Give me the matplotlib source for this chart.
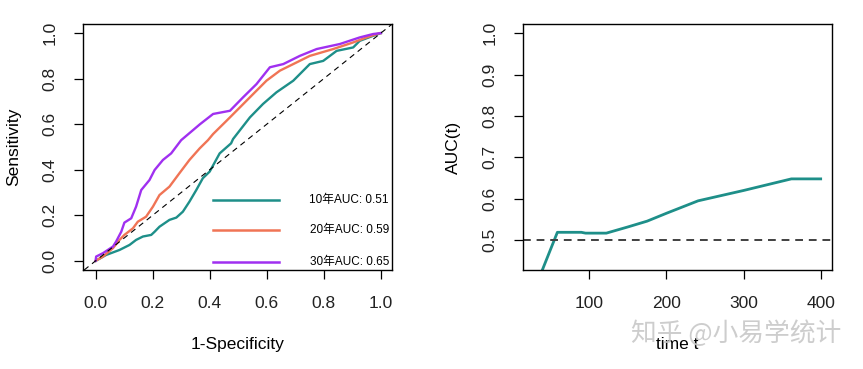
import matplotlib
matplotlib.use("Agg")
import matplotlib.pyplot as plt

plt.rcParams["font.family"] = ["Liberation Sans", "Noto Sans CJK SC", "DejaVu Sans"]

# ROC curves (1-specificity, sensitivity)
fpr_10 = [0.0, 0.037, 0.084, 0.119, 0.142, 0.166, 0.195, 0.207, 0.224, 0.259, 0.283,
          0.306, 0.329, 0.353, 0.376, 0.40, 0.435, 0.475, 0.482, 0.541, 0.587, 0.634,
          0.693, 0.751, 0.798, 0.845, 0.903, 0.926, 0.973, 1.0]
tpr_10 = [0.0, 0.026, 0.048, 0.07, 0.092, 0.107, 0.114, 0.128, 0.15, 0.18, 0.19,
          0.216, 0.26, 0.311, 0.363, 0.392, 0.472, 0.516, 0.535, 0.63, 0.689, 0.74,
          0.791, 0.864, 0.878, 0.922, 0.937, 0.966, 0.988, 1.0]

fpr_20 = [0.0, 0.026, 0.061, 0.084, 0.101, 0.131, 0.148, 0.177, 0.201, 0.224, 0.259,
          0.294, 0.329, 0.365, 0.394, 0.412, 0.459, 0.506, 0.552, 0.599, 0.646, 0.693,
          0.751, 0.833, 0.903, 0.95, 0.996, 1.0]
tpr_20 = [0.0, 0.019, 0.056, 0.092, 0.114, 0.143, 0.172, 0.194, 0.238, 0.289, 0.326,
          0.385, 0.443, 0.494, 0.53, 0.557, 0.615, 0.674, 0.732, 0.791, 0.835, 0.864,
          0.90, 0.93, 0.959, 0.981, 1.0, 1.0]

fpr_30 = [0.0, 0.002, 0.026, 0.061, 0.072, 0.09, 0.101, 0.125, 0.142, 0.16, 0.189,
          0.207, 0.236, 0.265, 0.30, 0.366, 0.412, 0.471, 0.517, 0.564, 0.611, 0.658,
          0.716, 0.775, 0.856, 0.926, 0.973, 1.0]
tpr_30 = [0.0, 0.019, 0.034, 0.063, 0.085, 0.128, 0.168, 0.187, 0.238, 0.311, 0.355,
          0.399, 0.443, 0.472, 0.53, 0.60, 0.645, 0.659, 0.718, 0.776, 0.85, 0.864,
          0.90, 0.93, 0.952, 0.981, 0.996, 1.0]

roc_labels = ["10年AUC: 0.51", "20年AUC: 0.59", "30年AUC: 0.65"]
roc_colors = ["#1e8f89", "#f07455", "#a030f0"]

# time-dependent AUC
time_t = [29, 39, 58.5, 89.6, 95, 122, 150, 175, 200, 241, 300, 362, 400]
auc_t = [0.38, 0.428, 0.519, 0.519, 0.517, 0.517, 0.532, 0.546, 0.565, 0.595, 0.62, 0.648, 0.648]

fig = plt.figure(figsize=(8.63, 3.69), dpi=100)
ax1 = fig.add_axes([0.0962, 0.2683, 0.358, 0.6667])
ax2 = fig.add_axes([0.606, 0.2683, 0.358, 0.6667])

# left: ROC
curves = [(fpr_10, tpr_10), (fpr_20, tpr_20), (fpr_30, tpr_30)]
for (fx, ty), col in zip(curves, roc_colors):
    ax1.plot(fx, ty, color=col, lw=1.7)
ax1.axline((0, 0), (1, 1), color="black", lw=0.8, ls=(0, (5, 4)))
ax1.set_xlim(-0.044, 1.039)
ax1.set_ylim(-0.04, 1.04)
ax1.set_xticks([0.0, 0.2, 0.4, 0.6, 0.8, 1.0])
ax1.set_yticks([0.0, 0.2, 0.4, 0.6, 0.8, 1.0])
ax1.set_xticklabels(["0.0", "0.2", "0.4", "0.6", "0.8", "1.0"])
ax1.set_yticklabels(["0.0", "0.2", "0.4", "0.6", "0.8", "1.0"], rotation=90, va="center")
ax1.set_xlabel("1-Specificity", fontsize=12.5, labelpad=19)
ax1.set_ylabel("Sensitivity", fontsize=12.5, labelpad=15)

# legend without frame
leg_y = [0.285, 0.163, 0.033]
for yy, col, lab in zip(leg_y, roc_colors, roc_labels):
    ax1.plot([0.421, 0.634], [yy, yy], color=col, lw=1.8, transform=ax1.transAxes)
    ax1.text(0.99, yy, lab, transform=ax1.transAxes, ha="right", va="center", fontsize=8.5)

# right: AUC(t)
ax2.plot(time_t, auc_t, color="#1e8f89", lw=2.0)
ax2.axhline(0.5, color="#404040", lw=1.4, ls=(0, (4, 3)))
ax2.set_xlim(13.9, 414.6)
ax2.set_ylim(0.428, 1.022)
ax2.set_xticks([100, 200, 300, 400])
ax2.set_yticks([0.5, 0.6, 0.7, 0.8, 0.9, 1.0])
ax2.set_yticklabels(["0.5", "0.6", "0.7", "0.8", "0.9", "1.0"], rotation=90, va="center")
ax2.set_xlabel("time t", fontsize=12.5, labelpad=19)
ax2.set_ylabel("AUC(t)", fontsize=12.5, labelpad=15)

for ax in (ax1, ax2):
    ax.tick_params(direction="out", length=6.5, width=0.9, labelsize=12.5, pad=12,
                   colors="black", labelcolor="#222222")
    for sp in ax.spines.values():
        sp.set_linewidth(1.0)
        sp.set_color("black")

fig.text(0.975, 0.097, "知乎 @小易学统计", ha="right", va="center", fontsize=18.5,
         color="#c8c8c8", alpha=0.9, family=["Noto Sans CJK SC", "DejaVu Sans"])

fig.savefig("out.png", dpi=100)
